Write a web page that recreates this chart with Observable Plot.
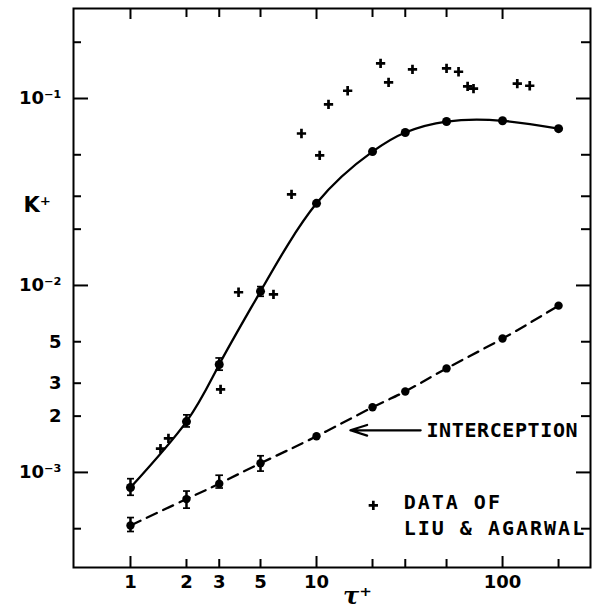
<!DOCTYPE html>
<html><head><meta charset="utf-8">
<script src="https://cdn.jsdelivr.net/npm/d3@7"></script>
<script src="https://cdn.jsdelivr.net/npm/@observablehq/plot@0.6"></script>
<style>body{margin:0;background:#fff;}</style>
</head><body><div id="chart"></div>
<script>
// Model results (solid curve) and interception contribution (dashed)
const tau = [1, 2, 3, 5, 10, 20, 30, 50, 100, 200];
const kTotal = [8.3e-4, 1.87e-3, 3.78e-3, 9.3e-3, 0.0275, 0.052, 0.0658, 0.0753, 0.076, 0.069];
const kInterception = [5.2e-4, 7.2e-4, 8.7e-4, 1.12e-3, 1.56e-3, 2.23e-3, 2.71e-3, 3.6e-3, 5.2e-3, 7.8e-3];
// Error bars
const errTau = [1, 2, 3, 5];
const totalLow = [7.5e-4, 1.74e-3, 3.5e-3, 8.7e-3];
const totalHigh = [9.2e-4, 2.02e-3, 4.07e-3, 9.8e-3];
const intLow = [4.8e-4, 6.4e-4, 8.2e-4, 1.01e-3];
const intHigh = [5.7e-4, 7.9e-4, 9.6e-4, 1.22e-3];
// Data of Liu & Agarwal
const liuTau = [1.45, 1.60, 3.05, 3.81, 5.87, 7.34, 8.3, 10.4, 11.6, 14.7, 22.1, 24.4, 32.8, 50, 58, 64.9, 69.8, 120, 140];
const liuK = [1.34e-3, 1.52e-3, 2.78e-3, 9.2e-3, 8.95e-3, 0.0307, 0.065, 0.0496, 0.093, 0.110, 0.154, 0.122, 0.143, 0.145, 0.139, 0.116, 0.113, 0.12, 0.117];
// Ticks
const xTicksMajor = [1, 10, 100];
const xTicksMinorBottom = [2, 3, 5, 20, 30, 50, 200];
const xTicksMinorTop = [2, 3, 5, 20, 30, 50];
const xTickLabels = [1, 2, 3, 5, 10, 100];
const xTickText = ["1", "2", "3", "5", "10", "100"];
const yTicksMajor = [1e-3, 1e-2, 1e-1];
const yTicksMinor = [5e-4, 2e-3, 3e-3, 5e-3, 2e-2, 3e-2, 5e-2, 2e-1];
const yTickLabels = [1e-3, 2e-3, 3e-3, 5e-3, 1e-2, 1e-1];
const yTickText = ["10⁻³", "2", "3", "5", "10⁻²", "10⁻¹"];
// Annotations
const noteText = ["INTERCEPTION", "DATA OF", "LIU & AGARWAL"];
const noteTau = [39.0, 29.4, 29.4];
const noteK = [1.68e-3, 6.92e-4, 5.02e-4];
const arrowTau = [36.3, 15.2];
const arrowK = 1.68e-3;
const legendTau = 20.2, legendK = 6.67e-4;

const W = 597, H = 615;
const mL = 73, mR = 7, mT = 8, mB = 48;
const innerW = W - mL - mR, innerH = H - mT - mB;

const total = tau.map((t, i) => ({t, k: kTotal[i]}));
const inter = tau.map((t, i) => ({t, k: kInterception[i]}));
const errs = errTau.flatMap((t, i) => [
  {t, lo: totalLow[i], hi: totalHigh[i]},
  {t, lo: intLow[i], hi: intHigh[i]}
]);
const liu = liuTau.map((t, i) => ({t, k: liuK[i]}));
const notes = noteText.map((s, i) => ({s, t: noteTau[i], k: noteK[i]}));
const xLab = xTickLabels.map((t, i) => ({t, s: xTickText[i]}));
const yLab = yTickLabels.map((k, i) => ({k, s: yTickText[i]}));

const tickStyle = {stroke: "black", strokeWidth: 2};

const plot = Plot.plot({
  width: W, height: H,
  marginLeft: mL, marginRight: mR, marginTop: mT, marginBottom: mB,
  x: {type: "log", domain: [0.494, 297], axis: null},
  y: {type: "log", domain: [3.1e-4, 0.303], axis: null},
  style: {fontFamily: "DejaVu Sans", fontSize: "18px", fontWeight: "bold", color: "black", background: "white"},
  marks: [
    Plot.frame({strokeWidth: 2}),
    // inward ticks: bottom, top
    Plot.tickX(xTicksMajor, {x: d => d, insetTop: innerH - 11, ...tickStyle}),
    Plot.tickX(xTicksMinorBottom, {x: d => d, insetTop: innerH - 8, ...tickStyle}),
    Plot.tickX(xTicksMajor, {x: d => d, insetBottom: innerH - 11, ...tickStyle}),
    Plot.tickX(xTicksMinorTop, {x: d => d, insetBottom: innerH - 9, ...tickStyle}),
    // left, right
    Plot.tickY(yTicksMajor, {y: d => d, insetRight: innerW - 15, ...tickStyle}),
    Plot.tickY(yTicksMinor, {y: d => d, insetRight: innerW - 8, ...tickStyle}),
    Plot.tickY(yTicksMajor, {y: d => d, insetLeft: innerW - 14, ...tickStyle}),
    Plot.tickY(yTicksMinor, {y: d => d, insetLeft: innerW - 9, ...tickStyle}),
    // tick labels
    Plot.text(xLab, {x: "t", text: "s", frameAnchor: "bottom", dy: 20, fontSize: 18}),
    Plot.text(yLab, {y: "k", text: "s", frameAnchor: "left", dx: -12, textAnchor: "end", fontSize: 18}),
    // axis titles
    Plot.text([{k: 0.0268}], {y: "k", text: () => "K⁺", frameAnchor: "left", dx: -50, fontSize: 21}),
    Plot.text([{t: 16.6}], {x: "t", text: () => "τ⁺", frameAnchor: "bottom", dy: 36, fontFamily: "DejaVu Serif", fontStyle: "italic", fontSize: 24}),
    // curves
    Plot.line(total, {x: "t", y: "k", curve: "natural", strokeWidth: 2.3, stroke: "black"}),
    Plot.line(inter, {x: "t", y: "k", curve: "natural", strokeWidth: 2.3, stroke: "black", strokeDasharray: "11,7"}),
    // error bars
    Plot.ruleX(errs, {x: "t", y1: "lo", y2: "hi", strokeWidth: 2.4, stroke: "black"}),
    Plot.ruleX(errs, {x: "t", y1: "lo", y2: "hi", strokeWidth: 1.3, stroke: "black", markerStart: "tick", markerEnd: "tick"}),
    Plot.dot(total, {x: "t", y: "k", r: 4.5, fill: "black"}),
    Plot.dot(inter, {x: "t", y: "k", r: 4.2, fill: "black"}),
    // Liu & Agarwal
    Plot.dot(liu, {x: "t", y: "k", symbol: "plus", r: 3.1, stroke: "black", strokeWidth: 2.7}),
    // annotations
    Plot.arrow([{x1: arrowTau[0], x2: arrowTau[1], y: arrowK}], {x1: "x1", x2: "x2", y1: "y", y2: "y", stroke: "black", strokeWidth: 2.2, headLength: 12, headAngle: 35}),
    Plot.text(notes, {x: "t", y: "k", text: "s", textAnchor: "start", fontFamily: "DejaVu Sans Mono", fontSize: 20, fontWeight: "bold"}),
    Plot.dot([{t: legendTau, k: legendK}], {x: "t", y: "k", symbol: "plus", r: 3.1, stroke: "black", strokeWidth: 2.7})
  ]
});

d3.select(plot).selectAll("text").each(function() {
  const t = this.textContent;
  if (t === "DATA OF" || t === "LIU & AGARWAL") this.setAttribute("letter-spacing", "2");
  if (t === "INTERCEPTION") this.setAttribute("letter-spacing", "0.6");
});

document.getElementById("chart").appendChild(plot);
</script>
</body></html>
